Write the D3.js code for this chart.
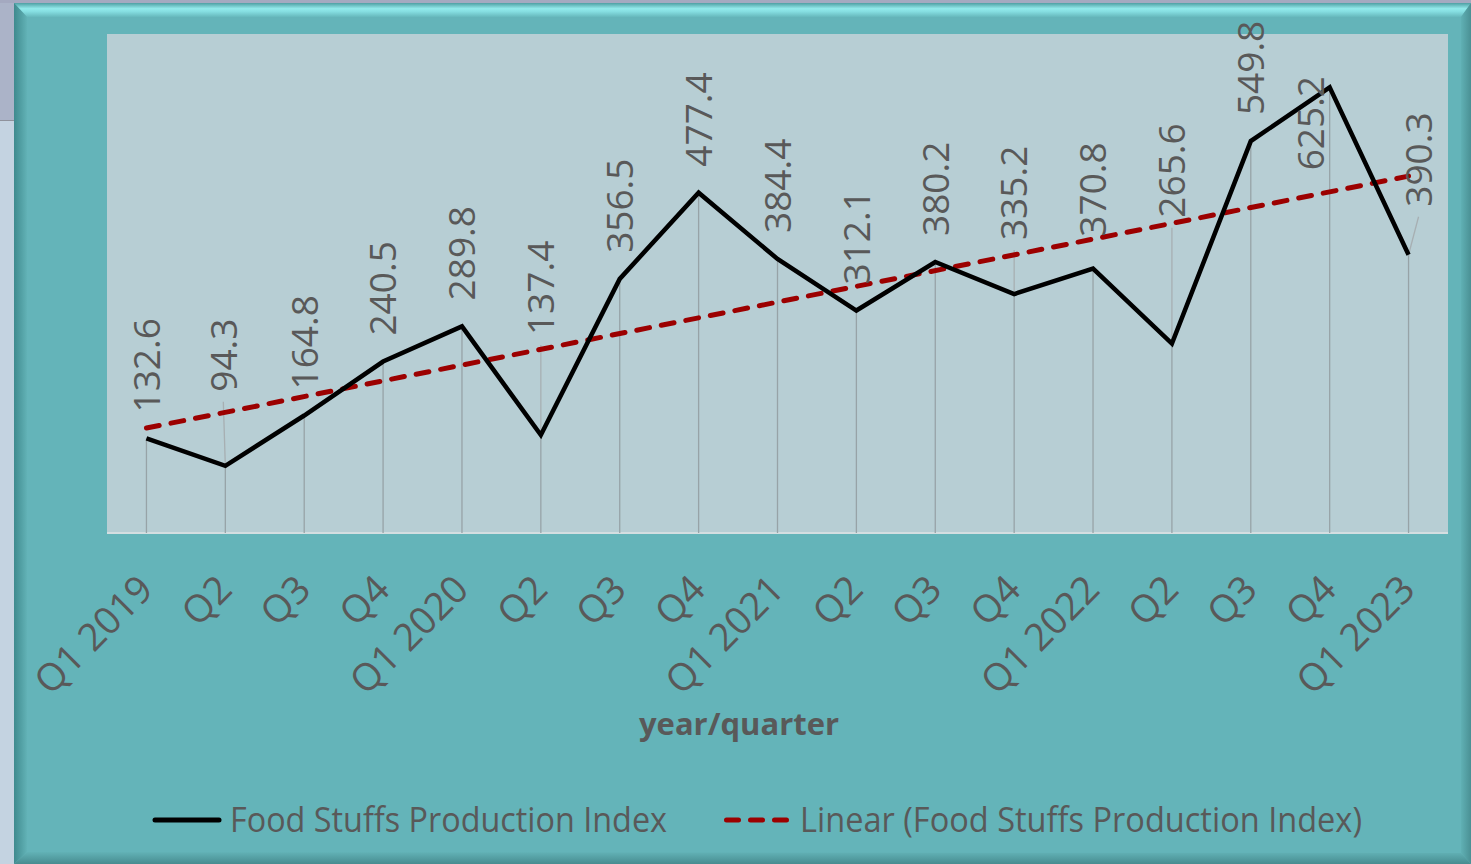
<!DOCTYPE html>
<html>
<head>
<meta charset="utf-8">
<title>Food Stuffs Production Index</title>
<script src="https://cdn.jsdelivr.net/npm/d3@7"></script>
<style>
body { margin:0; background:#c4d3e0; overflow:hidden; }
text { font-family: "Open Sans", "Noto Sans", sans-serif; fill:#595959; }
</style>
</head>
<body>
<svg id="chart" width="1471" height="864"></svg>
<script>
// data
var quarters = ["Q1 2019", "Q2", "Q3", "Q4", "Q1 2020", "Q2", "Q3", "Q4",
                "Q1 2021", "Q2", "Q3", "Q4", "Q1 2022", "Q2", "Q3", "Q4", "Q1 2023"];
var indexValues = [132.6, 94.3, 164.8, 240.5, 289.8, 137.4, 356.5, 477.4,
                   384.4, 312.1, 380.2, 335.2, 370.8, 265.6, 549.8, 625.2, 390.3];
var seriesName = "Food Stuffs Production Index";
var trendName = "Linear (Food Stuffs Production Index)";
var xTitle = "year/quarter";
var yDomain = [0, 700];

// hand-moved data labels: [dx, extra lift] in px
var labelNudge = [[0,0],[-2,48],[0,0],[0,0],[0,0],[0,74],[0,0],[0,0],[0,0],
                  [0,0],[0,0],[0,28],[0,6],[0,100],[0,0],[-19,-109],[10,22]];

var W = 1471, H = 864;
var plot = {left: 107, top: 34, right: 1448, bottom: 533};

var svg = d3.select('#chart');
var defs = svg.append('defs');

function grad(id, x2, y2, stops) {
    var g = defs.append('linearGradient').attr('id', id)
        .attr('x1', 0).attr('y1', 0).attr('x2', x2).attr('y2', y2);
    stops.forEach(function (s) {
        g.append('stop').attr('offset', s[0]).attr('stop-color', s[1]);
    });
}
grad('gTop', 0, 1, [[0, '#4f9fa3'], [0.4, '#92e9eb'], [0.6, '#86dfe2'], [1, '#66b8bc']]);
grad('gLeft', 1, 0, [[0, '#3f8a8e'], [1, '#62b2b6']]);
grad('gRight', 1, 0, [[0, '#60b0b4'], [1, '#4a9094']]);
grad('gBottom', 0, 1, [[0, '#62b2b6'], [1, '#478c90']]);

// window behind the chart
svg.append('rect').attr('width', W).attr('height', H).attr('fill', '#a4a9c0');
svg.append('rect').attr('x', 0).attr('y', 3).attr('width', 14).attr('height', 117).attr('fill', '#abb3c8');
svg.append('rect').attr('x', 0).attr('y', 121).attr('width', 14).attr('height', H - 121).attr('fill', '#c4d3e1');
svg.append('line').attr('x1', 0).attr('x2', 14).attr('y1', 120.5).attr('y2', 120.5)
    .attr('stroke', '#8f929c');

// chart frame with bevel
svg.append('rect').attr('x', 14).attr('y', 3).attr('width', W - 14).attr('height', H - 3)
    .attr('fill', '#64b4b9');
svg.append('polygon').attr('points', '14,3 1471,3 1461,17 27,17').attr('fill', 'url(#gTop)');
svg.append('polygon').attr('points', '14,3 27,17 27,852 14,864').attr('fill', 'url(#gLeft)');
svg.append('polygon').attr('points', '1471,3 1461,17 1461,853 1471,864').attr('fill', 'url(#gRight)');
svg.append('polygon').attr('points', '14,864 27,852 1461,853 1471,864').attr('fill', 'url(#gBottom)');

// plot area
svg.append('rect').attr('x', plot.left).attr('y', plot.top)
    .attr('width', plot.right - plot.left).attr('height', plot.bottom + 1 - plot.top)
    .attr('fill', '#b7ced4');
svg.append('line').attr('x1', plot.left).attr('x2', plot.right)
    .attr('y1', plot.bottom).attr('y2', plot.bottom)
    .attr('stroke', '#d4dee1').attr('stroke-width', 2);

var x = d3.scaleBand().domain(d3.range(quarters.length)).range([plot.left, plot.right]);
var y = d3.scaleLinear().domain(yDomain).range([plot.bottom, plot.top]);
function cx(i) { return x(i) + x.bandwidth() / 2; }

// linear trend (least squares over the quarter index)
var n = indexValues.length;
var mx = d3.mean(d3.range(n)), my = d3.mean(indexValues);
var sxy = d3.sum(indexValues, function (v, i) { return (i - mx) * (v - my); });
var sxx = d3.sum(d3.range(n), function (i) { return (i - mx) * (i - mx); });
var slope = sxy / sxx, icpt = my - slope * mx;
var trend = [0, n - 1].map(function (i) { return [i, icpt + slope * i]; });

// drop lines
svg.append('g').selectAll('line').data(indexValues).enter().append('line')
    .attr('x1', function (d, i) { return cx(i); })
    .attr('x2', function (d, i) { return cx(i); })
    .attr('y1', function (d) { return y(d); })
    .attr('y2', plot.bottom)
    .attr('stroke', '#97a3a7').attr('stroke-width', 1.3);

// leader lines for the moved labels
var labelY = function (d, i) { return y(d) - 26 - labelNudge[i][1]; };
svg.append('g').selectAll('line')
    .data(indexValues.map(function (v, i) { return i; })
        .filter(function (i) { return labelNudge[i][1] >= 20; }))
    .enter().append('line')
    .attr('x1', function (i) { return cx(i) + labelNudge[i][0]; })
    .attr('y1', function (i) { return labelY(indexValues[i], i) + 10; })
    .attr('x2', function (i) { return cx(i); })
    .attr('y2', function (i) { return y(indexValues[i]); })
    .attr('stroke', '#a7afb2').attr('stroke-width', 1.3);

// trend line
svg.append('path').datum(trend)
    .attr('d', d3.line().x(function (d) { return cx(d[0]); }).y(function (d) { return y(d[1]); }))
    .attr('fill', 'none').attr('stroke', '#9c0000').attr('stroke-width', 5)
    .attr('stroke-dasharray', '13 12').attr('stroke-linecap', 'round');

// series line
svg.append('path').datum(indexValues)
    .attr('d', d3.line().x(function (d, i) { return cx(i); }).y(function (d) { return y(d); }))
    .attr('fill', 'none').attr('stroke', '#000').attr('stroke-width', 4.5)
    .attr('stroke-linejoin', 'miter');

// data labels
svg.append('g').selectAll('text').data(indexValues).enter().append('text')
    .attr('transform', function (d, i) {
        return 'translate(' + (cx(i) + labelNudge[i][0]) + ',' + labelY(d, i) + ') rotate(-90)';
    })
    .attr('dy', '0.36em')
    .style('font-size', '37px')
    .text(function (d) { return d3.format('.1f')(d); });

// category axis
var xAxis = d3.axisBottom(x).tickSize(0).tickFormat(function (i) { return quarters[i]; });
var ax = svg.append('g').attr('transform', 'translate(0,' + plot.bottom + ')').call(xAxis);
ax.select('.domain').remove();
ax.selectAll('text')
    .attr('y', 0).attr('dy', '0.36em')
    .attr('transform', 'translate(-1,49) rotate(-45)')
    .attr('text-anchor', 'end')
    .attr('fill', '#595959')
    .style('font-size', '38px')
    .style('font-family', '"Open Sans", sans-serif');

// axis title
svg.append('text').attr('x', 739).attr('y', 735)
    .attr('text-anchor', 'middle')
    .attr('textLength', 200).attr('lengthAdjust', 'spacingAndGlyphs')
    .style('font-size', '30px').style('font-weight', 'bold')
    .text(xTitle);

// legend
var lg = svg.append('g');
lg.append('line').attr('x1', 155).attr('x2', 219).attr('y1', 820).attr('y2', 820)
    .attr('stroke', '#000').attr('stroke-width', 5).attr('stroke-linecap', 'round');
lg.append('text').attr('x', 230).attr('y', 832)
    .attr('textLength', 437).attr('lengthAdjust', 'spacingAndGlyphs')
    .style('font-size', '34px').text(seriesName);
lg.append('line').attr('x1', 726.5).attr('x2', 786.5).attr('y1', 820).attr('y2', 820)
    .attr('stroke', '#9c0000').attr('stroke-width', 5)
    .attr('stroke-dasharray', '12 12').attr('stroke-linecap', 'round');
lg.append('text').attr('x', 800).attr('y', 832)
    .attr('textLength', 562).attr('lengthAdjust', 'spacingAndGlyphs')
    .style('font-size', '34px').text(trendName);
</script>
</body>
</html>
